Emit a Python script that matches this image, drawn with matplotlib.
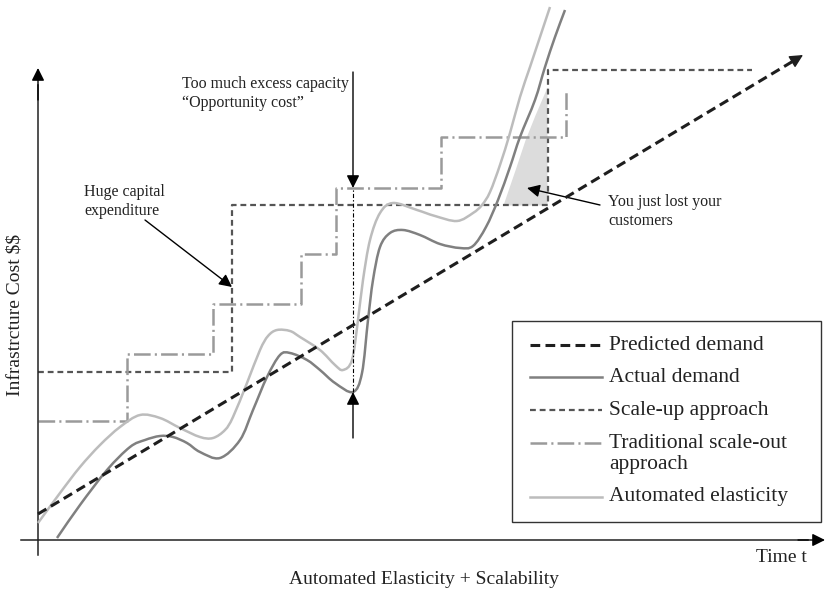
import numpy as np
import matplotlib
matplotlib.use("Agg")
import matplotlib.pyplot as plt
from matplotlib.path import Path
from matplotlib.patches import PathPatch, Rectangle

plt.rcParams['font.family'] = ['Liberation Serif', 'DejaVu Serif']
plt.rcParams['lines.scale_dashes'] = False

# time (t) and infrastructure cost (c)
actual_t = [19, 42, 69, 92, 107, 122, 135, 149, 162, 182, 202, 215, 229, 242, 252, 269, 282,
            297, 315, 324, 330, 335, 342, 352, 365, 382, 402, 422, 435, 448, 460, 472, 482,
            497, 507, 517, 527]
actual_c = [2, 35, 70, 93, 100, 104, 103, 97, 88, 82, 100, 130, 163, 185, 187, 180, 170,
            157, 148, 167, 220, 260, 293, 307, 310, 305, 296, 292, 294, 313, 340, 373, 403,
            440, 473, 503, 530]

auto_t = [0, 22, 42, 62, 82, 102, 122, 142, 162, 175, 187, 195, 209, 222, 230, 239, 252,
          262, 282, 297, 305, 314, 320, 325, 332, 342, 355, 379, 397, 419, 435, 444, 452,
          462, 472, 482, 492, 502, 512]
auto_c = [17, 47, 73, 95, 113, 125, 122, 112, 103, 102, 110, 123, 157, 190, 204, 210, 209,
          203, 190, 175, 170, 180, 220, 260, 300, 327, 337, 330, 324, 319, 327, 335, 348,
          375, 407, 443, 473, 503, 533]

predicted_t = [0, 765]
predicted_c = [26, 485]

scaleup_t = [0, 194, 510, 714]
scaleup_c = [168, 335, 470, 470]

scaleout_t = [0, 89, 175, 263, 298, 403, 528]
scaleout_c = [119, 186, 236, 286, 352, 403, 450]

# lost customers region (edge of the shaded area)
lost_t = [465, 477, 487, 497, 509]
lost_c = [335, 370, 400, 425, 453]

excess_t = 315

labels = ['Predicted demand', 'Actual demand', 'Scale-up approach',
          'Traditional scale-out', 'Automated elasticity']


def smooth(xs, ys):
    # bezier path through the read points (catmull-rom tangents)
    p = np.column_stack([xs, ys]).astype(float)
    verts = [p[0]]
    codes = [Path.MOVETO]
    for i in range(len(p) - 1):
        d0 = (p[i + 1] - p[i - 1]) / 6 if i > 0 else (p[1] - p[0]) / 3
        d1 = (p[i + 2] - p[i]) / 6 if i + 2 < len(p) else (p[-1] - p[-2]) / 3
        verts += [p[i] + d0, p[i + 1] - d1, p[i + 1]]
        codes += [Path.CURVE4] * 3
    return Path(verts, codes)


fig = plt.figure(figsize=(8.25, 5.93), dpi=100)
ax = fig.add_axes([0, 0, 1, 1])
ax.set_xlim(-38, 787)
ax.set_ylim(-53, 540)
ax.axis('off')

c_pred = '#1e1e1e'
c_actual = '#808080'
c_auto = '#bcbcbc'
c_up = '#555555'
c_out = '#9a9a9a'
c_text = '#222222'

st_pred = dict(color=c_pred, lw=2.2, dashes=(7, 3.8))
st_actual = dict(color=c_actual, lw=1.8)
st_up = dict(color=c_up, lw=1.6, dashes=(4.2, 2.8))
st_out = dict(color=c_out, lw=1.8, dashes=(12, 3, 1.5, 3))
st_auto = dict(color=c_auto, lw=1.8)

ax.fill_between(lost_t, scaleup_c[1], lost_c, color='#dcdcdc', lw=0, zorder=1)

ax.plot(scaleup_t, scaleup_c, drawstyle='steps-post', zorder=2, **st_up)
ax.plot(scaleout_t, scaleout_c, drawstyle='steps-post', zorder=2, **st_out)
ax.add_patch(PathPatch(smooth(auto_t, auto_c), fc='none', ec=c_auto, lw=1.8, zorder=3))
ax.add_patch(PathPatch(smooth(actual_t, actual_c), fc='none', ec=c_actual, lw=1.8, zorder=3))
ax.plot(predicted_t[:1] + [predicted_t[1] - 8], [predicted_c[0], predicted_c[1] - 5],
        zorder=4, **st_pred)
ax.annotate('', xy=(predicted_t[1], predicted_c[1]), xytext=(predicted_t[1] - 14, predicted_c[1] - 8.5),
            arrowprops=dict(arrowstyle='-|>', color=c_pred, lw=1, mutation_scale=20,
                            shrinkA=0, shrinkB=0), zorder=4)

# excess capacity marker
ax.plot([excess_t, excess_t], [actual_c[18], scaleout_c[4]], color='black', lw=0.8,
        dashes=(3, 1.5, 1, 1.5), zorder=4)
arrow = dict(arrowstyle='-|>', color='black', lw=1, mutation_scale=19, shrinkA=0, shrinkB=0)
ax.annotate('', xy=(excess_t, scaleout_c[4]), xytext=(excess_t, 468), arrowprops=arrow)
ax.annotate('', xy=(excess_t, actual_c[18]), xytext=(excess_t, 102), arrowprops=arrow)

# axes with arrows
ax.plot([-17, 770], [0, 0], color=c_text, lw=1.1)
ax.annotate('', xy=(787, 0), xytext=(760, 0), arrowprops=arrow)
ax.plot([0, 0], [-15, 455], color=c_text, lw=1.1)
ax.annotate('', xy=(0, 472), xytext=(0, 440), arrowprops=arrow)

fs = 11.5
ax.text(144, 464, 'Too much excess capacity\n\u201cOpportunity cost\u201d', fontsize=fs,
        va='top', ha='left', linespacing=1.25, color=c_text)
ax.text(46, 356, 'Huge capital\nexpenditure', fontsize=fs, va='top', ha='left',
        linespacing=1.25, color=c_text)
ax.annotate('', xy=(194, 253), xytext=(107, 320), arrowprops=arrow)
ax.text(570, 346, 'You just lost your\ncustomers', fontsize=fs, va='top', ha='left',
        linespacing=1.25, color=c_text)
ax.annotate('', xy=(489, 352), xytext=(562, 335), arrowprops=arrow)

ax.text(-23, 225, r'Infrastrcture Cost \$\$', rotation=90, fontsize=14, ha='center',
        va='center', color=c_text)
ax.text(386, -40, 'Automated Elasticity + Scalability', fontsize=14, ha='center',
        va='center', color=c_text)
ax.text(769, -17, 'Time t', fontsize=14, ha='right', va='center', color=c_text)

# legend box, drawn by hand so the keys line up with the first text line
ax.add_patch(Rectangle((474, 18), 309, 201, fc='white', ec='#333333', lw=1.0, zorder=5))
rows = [195, 163, 130, 97, 43]
for lab, st, r in zip(labels, [st_pred, st_actual, st_up, st_out, st_auto], rows):
    ax.plot([492, 564], [r, r], zorder=6, **st)
    ax.text(571, r, lab, fontsize=15.5, va='center', ha='left', color=c_text, zorder=6)
ax.text(571, 75, 'approach', fontsize=15.5, va='center', ha='left', color=c_text, zorder=6)

fig.savefig('out.png', dpi=100)
